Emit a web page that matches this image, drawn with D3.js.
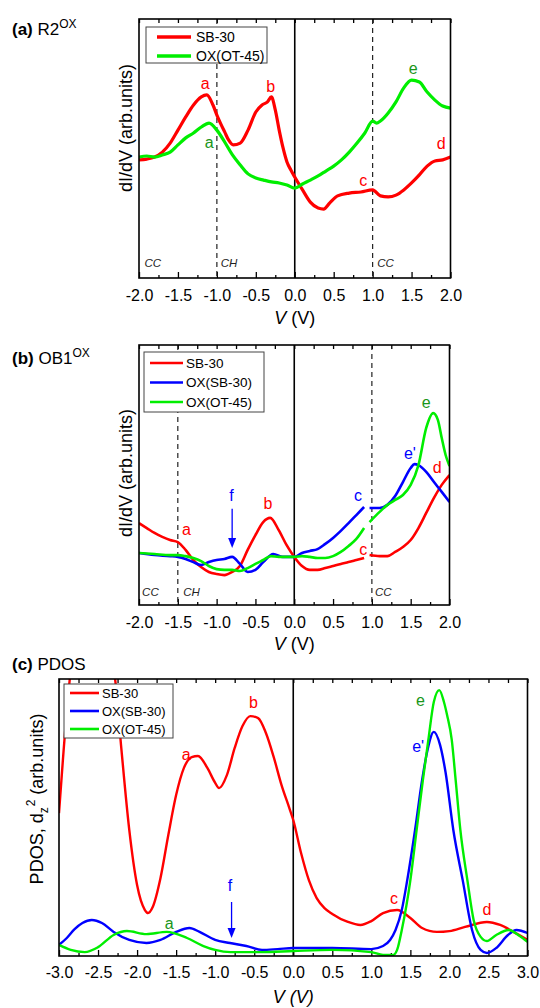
<!DOCTYPE html>
<html>
<head>
<meta charset="utf-8">
<script src="https://cdn.jsdelivr.net/npm/d3@7"></script>
<style>
  body { margin: 0; background: #fff; }
  svg { font-family: "Liberation Sans", Arial, sans-serif; }
</style>
</head>
<body>
<svg id="fig" width="540" height="1008"></svg>
<script>
// ---- panel (a) R2OX : dI/dV, arb. units (0..100 = bottom..top of frame)
const aRedV = [-2.0,-1.9,-1.8,-1.7,-1.6,-1.5,-1.4,-1.3,-1.2,-1.13,-1.05,-1.0,-0.95,-0.9,-0.85,-0.79,-0.7,-0.6,-0.5,-0.42,-0.35,-0.3,-0.25,-0.2,-0.15,-0.1,-0.05,0.0,0.1,0.2,0.3,0.37,0.45,0.55,0.7,0.85,1.0,1.1,1.2,1.3,1.4,1.5,1.6,1.7,1.8,1.9,2.0];
const aRedY = [45.6,45.9,46.7,48.6,52.1,57.1,62.2,66.8,69.9,70.7,66.8,62.9,59.5,56.4,53.3,51.4,52.1,57.1,64.1,66.8,68.0,69.9,64.9,57.1,50.2,44.8,41.7,39.0,34.0,29.3,27.0,26.6,29.0,31.7,32.8,33.2,34.0,31.7,31.3,32.0,34.0,36.7,39.8,43.2,45.2,45.6,46.7];
const aGreenV = [-2.0,-1.9,-1.8,-1.7,-1.6,-1.5,-1.4,-1.3,-1.2,-1.1,-1.0,-0.9,-0.8,-0.7,-0.6,-0.5,-0.4,-0.3,-0.2,-0.1,0.0,0.1,0.2,0.3,0.4,0.5,0.6,0.7,0.8,0.9,1.0,1.05,1.1,1.2,1.3,1.4,1.5,1.6,1.7,1.8,1.9,2.0];
const aGreenY = [46.7,47.1,46.7,47.5,48.6,51.4,54.1,56.0,58.3,59.8,57.1,52.5,47.5,43.6,40.2,38.6,37.8,37.1,36.7,35.9,34.7,36.3,37.8,39.4,41.3,43.2,45.6,48.6,52.1,56.0,60.6,59.8,60.6,63.7,68.0,73.4,76.4,75.7,71.8,68.7,66.4,65.6];

// ---- panel (b) OB1OX (null = break in the measurement)
const bRedV = [-2.0,-1.9,-1.8,-1.7,-1.6,-1.5,-1.4,-1.3,-1.2,-1.1,-1.0,-0.9,-0.8,-0.7,-0.6,-0.5,-0.4,-0.31,-0.2,-0.1,0.0,0.1,0.2,0.3,0.4,0.5,0.6,0.7,0.8,0.9,0.93,0.97,1.1,1.2,1.3,1.4,1.5,1.6,1.7,1.8,1.9,2.0];
const bRedY = [31.5,29.6,27.7,26.2,25.0,24.2,21.2,17.3,14.6,12.7,11.9,11.5,12.7,15.0,21.2,26.9,31.9,33.5,28.8,23.1,18.5,15.0,13.5,13.5,14.2,15.0,15.8,16.5,17.3,18.1,null,19.2,18.8,18.8,20.4,22.3,25.0,29.6,35.4,41.2,46.2,50.0];
const bBlueV = [-2.0,-1.8,-1.6,-1.5,-1.4,-1.3,-1.2,-1.1,-1.0,-0.9,-0.8,-0.7,-0.6,-0.5,-0.4,-0.27,-0.15,0.0,0.1,0.2,0.3,0.4,0.5,0.6,0.7,0.8,0.9,0.93,0.97,1.1,1.2,1.3,1.4,1.5,1.55,1.6,1.7,1.8,1.9,2.0];
const bBlueY = [20.0,19.2,18.8,18.5,17.7,16.5,15.4,16.5,17.3,17.7,18.5,15.8,12.7,13.5,16.5,19.6,18.5,18.5,20.0,20.8,21.5,23.5,25.8,28.5,31.5,34.6,37.7,null,37.3,37.3,38.5,41.9,47.3,52.7,54.2,53.8,51.2,47.3,43.5,39.6];
const bGreenV = [-2.0,-1.8,-1.6,-1.5,-1.4,-1.3,-1.2,-1.1,-1.0,-0.9,-0.8,-0.7,-0.6,-0.5,-0.4,-0.3,-0.2,-0.1,0.0,0.1,0.2,0.3,0.4,0.5,0.6,0.7,0.8,0.9,0.93,0.97,1.1,1.2,1.3,1.4,1.5,1.6,1.7,1.79,1.85,1.9,1.95,2.0];
const bGreenY = [20.0,19.6,19.2,19.2,18.8,18.1,16.9,15.0,13.8,13.5,13.5,13.1,14.2,15.8,17.3,18.8,18.5,18.5,18.5,18.8,18.5,18.1,18.1,18.8,20.4,22.7,25.4,29.6,null,31.9,35.8,38.5,40.4,42.3,46.2,53.8,68.1,73.8,71.2,64.2,57.7,53.5];

// ---- panel (c) PDOS dz2
const cRedV = [-3.0,-2.95,-2.9,-2.85,-2.75,-2.6,-2.45,-2.35,-2.28,-2.2,-2.1,-2.0,-1.9,-1.86,-1.8,-1.7,-1.6,-1.5,-1.4,-1.3,-1.22,-1.1,-1.0,-0.95,-0.85,-0.75,-0.65,-0.55,-0.45,-0.35,-0.25,-0.15,-0.05,0.0,0.1,0.2,0.3,0.4,0.5,0.7,0.86,1.0,1.15,1.33,1.5,1.65,1.84,2.0,2.2,2.48,2.65,2.82,3.0];
const cRedY = [51.6,70.8,88.8,103.2,124.9,135.7,124.9,110.5,99.6,74.4,45.5,25.6,16.6,15.5,17.7,28.2,43.7,58.1,67.9,71.8,72.2,67.9,62.5,60.6,65.3,75.1,83.0,86.6,85.9,80.5,71.8,61.7,53.4,49.1,37.2,27.4,20.9,17.3,15.2,12.3,11.2,12.6,15.5,16.6,13.7,10.1,8.7,9.0,10.5,12.3,11.2,8.7,5.8];
const cBlueV = [-3.0,-2.9,-2.8,-2.7,-2.58,-2.45,-2.3,-2.1,-1.88,-1.7,-1.5,-1.33,-1.2,-1.0,-0.81,-0.6,-0.4,-0.2,0.0,0.5,1.0,1.15,1.24,1.31,1.39,1.46,1.56,1.65,1.72,1.8,1.88,1.95,2.05,2.17,2.29,2.4,2.48,2.6,2.75,2.86,3.0];
const cBlueY = [4.0,6.5,9.7,11.9,13.0,11.9,8.7,5.8,4.7,5.8,8.7,10.1,8.7,5.8,4.7,3.6,2.2,2.5,2.9,2.9,2.5,3.6,5.8,9.4,16.6,27.4,45.5,63.5,74.4,80.9,76.2,66.4,45.5,27.4,9.4,2.2,1.1,2.9,7.6,9.4,8.3];
const cGreenV = [-3.0,-2.85,-2.67,-2.5,-2.3,-2.13,-1.88,-1.62,-1.36,-1.15,-1.0,-0.8,-0.4,0.0,0.5,1.0,1.15,1.28,1.33,1.39,1.5,1.58,1.66,1.73,1.8,1.87,1.93,1.97,2.03,2.08,2.14,2.23,2.31,2.4,2.48,2.6,2.76,2.9,3.0];
const cGreenY = [4.0,2.2,1.4,3.2,7.6,9.0,7.9,8.7,6.5,3.6,2.2,1.4,1.4,1.8,2.2,1.4,0.4,0.4,2.2,9.4,27.4,45.5,63.5,78.0,91.7,96.0,91.7,87.0,78.0,63.5,45.5,27.4,13.0,6.9,5.4,7.6,9.4,7.2,5.1];

const RED = "#ff0000", GREEN = "#00ee00", BLUE = "#0000ff", GREEN_TXT = "#1a961a";
const svg = d3.select("#fig");
const zip = (v, y) => v.map((d, i) => ({v: d, y: y[i]}));

function drawPanel(p) {
    const w = p.right - p.left, h = p.bottom - p.top;
    const g = svg.append("g").attr("transform", `translate(${p.left},${p.top})`);
    const x = d3.scaleLinear().domain(p.xDomain).range([0, w]);
    const y = d3.scaleLinear().domain([0, 100]).range([h, 0]);

    g.append("clipPath").attr("id", p.id + "-clip")
        .append("rect").attr("width", w).attr("height", h);

    // inward ticks, major every 0.5, minor every 0.25
    const major = d3.range(p.xDomain[0], p.xDomain[1] + 0.01, 0.5);
    const minor = d3.range(p.xDomain[0] + 0.25, p.xDomain[1], 0.5);
    const xb = g.append("g").attr("transform", `translate(0,${h})`)
        .call(d3.axisBottom(x).tickValues(major).tickSize(-6).tickPadding(p.pad).tickFormat(d => d.toFixed(1)));
    xb.selectAll("text").style("font-size", "16px").attr("fill", "#000");
    g.append("g").attr("transform", `translate(0,${h})`)
        .call(d3.axisBottom(x).tickValues(minor).tickSize(-3).tickFormat(""));
    g.append("g").call(d3.axisTop(x).tickValues(major.concat(minor)).tickSize(-4).tickFormat(""));
    g.selectAll(".domain").remove();
    g.selectAll(".tick line").attr("stroke", "#000").attr("stroke-width", 1.3);

    // reference lines
    g.append("line").attr("x1", x(0)).attr("x2", x(0)).attr("y1", 0).attr("y2", h)
        .attr("stroke", "#000").attr("stroke-width", 1.6);
    (p.dashed || []).forEach(v => {
        g.append("line").attr("x1", x(v)).attr("x2", x(v)).attr("y1", 0).attr("y2", h)
            .attr("stroke", "#222").attr("stroke-width", 1.2).attr("stroke-dasharray", "5,4");
    });

    const line = d3.line().defined(d => d.y !== null).x(d => x(d.v)).y(d => y(d.y)).curve(d3.curveMonotoneX);
    const curves = g.append("g").attr("clip-path", `url(#${p.id}-clip)`);
    p.series.forEach(s => {
        curves.append("path").datum(zip(s.v, s.y))
            .attr("fill", "none").attr("stroke", s.color).attr("stroke-width", p.lw)
            .attr("stroke-linejoin", "round").attr("d", line);
    });

    // frame
    g.append("rect").attr("width", w).attr("height", h)
        .attr("fill", "none").attr("stroke", "#000").attr("stroke-width", 1.6);

    // peak labels
    p.labels.forEach(l => {
        g.append("text").attr("x", x(l.v)).attr("y", y(l.y)).attr("dy", "0.35em")
            .attr("text-anchor", "middle").attr("fill", l.c).style("font-size", "16px").text(l.t);
    });
    (p.notes || []).forEach(n => {
        g.append("text").attr("x", x(n.v)).attr("y", y(n.y)).attr("dy", "0.35em")
            .attr("fill", "#222").style("font-size", "11.5px").style("font-style", "italic").text(n.t);
    });
    (p.arrows || []).forEach(a => {
        g.append("line").attr("x1", x(a.v)).attr("x2", x(a.v)).attr("y1", y(a.y1)).attr("y2", y(a.y2) - 8)
            .attr("stroke", a.c).attr("stroke-width", 1.3);
        const tx = x(a.v), ty = y(a.y2);
        g.append("path").attr("d", `M${tx - 4},${ty - 10}L${tx + 4},${ty - 10}L${tx},${ty}Z`).attr("fill", a.c);
    });

    // legend
    const lg = g.append("g").attr("transform", `translate(${p.legend.x},${p.legend.y})`);
    lg.append("rect").attr("width", p.legend.w).attr("height", p.legend.h)
        .attr("fill", "#fff").attr("stroke", "#444").attr("stroke-width", 1);
    p.series.forEach((s, i) => {
        const ry = p.legend.row0 + i * p.legend.dy;
        lg.append("line").attr("x1", p.legend.l0).attr("x2", p.legend.l1).attr("y1", ry).attr("y2", ry)
            .attr("stroke", s.color).attr("stroke-width", p.legend.lw);
        lg.append("text").attr("x", p.legend.tx).attr("y", ry).attr("dy", "0.35em")
            .style("font-size", p.legend.fs + "px").text(s.name);
    });

    // axis titles
    const xl = svg.append("text").attr("x", p.left + x(0)).attr("y", p.xlabY)
        .attr("text-anchor", "middle").style("font-size", "18px");
    xl.append("tspan").style("font-style", "italic").text("V");
    xl.append("tspan").style("font-style", p.italicUnit ? "italic" : "normal").text(" (V)");

    const yl = svg.append("text")
        .attr("transform", `translate(${p.ylab.x},${p.ylab.y}) rotate(-90)`)
        .attr("text-anchor", "middle").attr("dy", "0.35em").style("font-size", "18px");
    p.ylab.parts(yl);

    const tt = svg.append("text").attr("x", 12).attr("y", p.titleY).style("font-size", "17px");
    tt.append("tspan").style("font-weight", "bold").text(p.title[0]);
    tt.append("tspan").text(" " + p.title[1]);
    if (p.title[2]) tt.append("tspan").attr("dy", -7).style("font-size", "12px").text(p.title[2]);
}

const dIdV = t => t.text("dI/dV (arb.units)");

drawPanel({
    id: "pa", left: 139, top: 19, right: 450.5, bottom: 278, xDomain: [-2, 2], pad: 12, lw: 3.2,
    dashed: [-1, 1],
    series: [
        {name: "SB-30", color: RED, v: aRedV, y: aRedY},
        {name: "OX(OT-45)", color: GREEN, v: aGreenV, y: aGreenY}
    ],
    labels: [
        {t: "a", v: -1.15, y: 75.3, c: RED}, {t: "b", v: -0.31, y: 74.1, c: RED},
        {t: "a", v: -1.1, y: 52.5, c: GREEN_TXT}, {t: "c", v: 0.88, y: 37.8, c: RED},
        {t: "e", v: 1.52, y: 81.1, c: GREEN_TXT}, {t: "d", v: 1.88, y: 52.1, c: RED}
    ],
    notes: [{t: "CC", v: -1.93, y: 5.8}, {t: "CH", v: -0.95, y: 5.8}, {t: "CC", v: 1.06, y: 5.8}],
    legend: {x: 7, y: 8, w: 121, h: 36, row0: 10, dy: 19, l0: 11, l1: 45, tx: 50, lw: 3.5, fs: 14},
    xlabY: 324, italicUnit: false,
    ylab: {x: 126, y: 128, parts: dIdV},
    titleY: 35, title: ["(a)", "R2", "OX"]
});

drawPanel({
    id: "pb", left: 139, top: 345, right: 449.5, bottom: 605, xDomain: [-2, 2], pad: 12, lw: 2.6,
    dashed: [-1.5, 1],
    series: [
        {name: "SB-30", color: RED, v: bRedV, y: bRedY},
        {name: "OX(SB-30)", color: BLUE, v: bBlueV, y: bBlueY},
        {name: "OX(OT-45)", color: GREEN, v: bGreenV, y: bGreenY}
    ],
    labels: [
        {t: "a", v: -1.39, y: 29.2, c: RED}, {t: "f", v: -0.81, y: 42.3, c: BLUE},
        {t: "b", v: -0.34, y: 39.2, c: RED}, {t: "c", v: 0.82, y: 42.3, c: BLUE},
        {t: "c", v: 0.89, y: 21.2, c: RED}, {t: "e'", v: 1.49, y: 58.5, c: BLUE},
        {t: "e", v: 1.70, y: 78.1, c: GREEN_TXT}, {t: "d", v: 1.84, y: 53.1, c: RED}
    ],
    arrows: [{v: -0.8, y1: 37.0, y2: 21.9, c: BLUE}],
    notes: [{t: "CC", v: -1.96, y: 5.0}, {t: "CH", v: -1.43, y: 5.0}, {t: "CC", v: 1.04, y: 5.0}],
    legend: {x: 5, y: 7, w: 120, h: 60, row0: 11, dy: 19.5, l0: 6, l1: 39, tx: 42, lw: 2.6, fs: 13.5},
    xlabY: 650, italicUnit: false,
    ylab: {x: 126, y: 473, parts: dIdV},
    titleY: 364, title: ["(b)", "OB1", "OX"]
});

drawPanel({
    id: "pc", left: 59, top: 679, right: 527.5, bottom: 956, xDomain: [-3, 3], pad: 11, lw: 2.4,
    series: [
        {name: "SB-30", color: RED, v: cRedV, y: cRedY},
        {name: "OX(SB-30)", color: BLUE, v: cBlueV, y: cBlueY},
        {name: "OX(OT-45)", color: GREEN, v: cGreenV, y: cGreenY}
    ],
    labels: [
        {t: "b", v: -0.51, y: 91.7, c: RED}, {t: "a", v: -1.37, y: 72.6, c: RED},
        {t: "f", v: -0.81, y: 25.6, c: BLUE}, {t: "a", v: -1.59, y: 11.9, c: GREEN_TXT},
        {t: "c", v: 1.29, y: 20.9, c: RED}, {t: "d", v: 2.48, y: 17.0, c: RED},
        {t: "e", v: 1.63, y: 92.4, c: GREEN_TXT}, {t: "e'", v: 1.6, y: 75.8, c: BLUE}
    ],
    arrows: [{v: -0.79, y1: 19.5, y2: 6.5, c: BLUE}],
    legend: {x: 5, y: 5, w: 109, h: 54, row0: 9, dy: 18, l0: 6, l1: 35, tx: 38, lw: 2.6, fs: 13},
    xlabY: 1003, italicUnit: true,
    ylab: {x: 37, y: 799, parts: t => {
        t.append("tspan").text("PDOS, d");
        t.append("tspan").attr("dy", 5).style("font-size", "12px").text("z");
        t.append("tspan").attr("dy", -13).attr("dx", 1).style("font-size", "12px").text("2");
        t.append("tspan").attr("dy", 8).text(" (arb.units)");
    }},
    titleY: 670, title: ["(c)", "PDOS", null]
});
</script>
</body>
</html>
